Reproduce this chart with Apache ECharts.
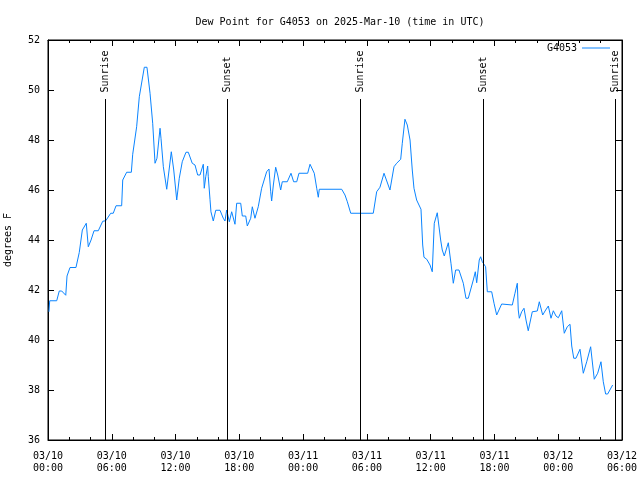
<!DOCTYPE html>
<html>
<head>
<meta charset="utf-8">
<script src="https://cdn.jsdelivr.net/npm/echarts@6/dist/echarts.min.js"></script>
<style>html,body{margin:0;padding:0;background:#fff}#c{width:640px;height:480px}</style>
</head>
<body>
<div id="c"></div>
<script>
// Hours since 2025-03-10 00:00 UTC
const hours = [0.09,0.16,0.82,1.06,1.29,1.67,1.79,2.07,2.63,2.94,3.23,3.60,3.79,4.05,4.33,4.73,5.15,5.43,5.90,6.14,6.40,6.93,7.03,7.40,7.84,7.97,8.34,8.59,9.06,9.31,9.60,9.85,10.07,10.25,10.54,10.63,10.85,11.17,11.32,11.60,11.83,12.11,12.35,12.63,12.98,13.20,13.36,13.57,13.83,14.08,14.30,14.61,14.70,14.84,15.02,15.08,15.24,15.33,15.55,15.78,16.18,16.49,16.65,16.81,17.06,17.28,17.59,17.75,18.13,18.28,18.60,18.75,19.07,19.22,19.47,19.78,20.10,20.57,20.79,20.95,21.04,21.20,21.42,21.61,21.89,22.04,22.51,22.86,23.11,23.40,23.61,24.43,24.65,25.05,25.28,25.43,25.52,27.00,27.63,27.94,28.16,28.48,30.60,30.92,31.23,31.61,32.17,32.30,32.55,32.80,33.18,33.33,33.58,33.80,34.06,34.27,34.43,34.68,34.90,35.09,35.25,35.37,35.63,35.94,36.15,36.34,36.62,36.94,37.09,37.28,37.66,37.91,38.13,38.35,38.66,39.07,39.32,39.54,40.01,40.20,40.33,40.57,40.70,40.86,41.02,41.17,41.33,41.74,41.96,42.21,42.36,42.68,42.83,43.68,43.93,44.15,44.24,44.34,44.56,44.78,44.97,45.18,45.56,46.03,46.22,46.54,46.82,47.07,47.32,47.54,47.79,48.01,48.33,48.57,48.85,49.11,49.27,49.46,49.67,50.05,50.36,50.68,51.05,51.39,51.71,52.02,52.24,52.46,52.65,53.12];
const dewF = [41.13,41.57,41.57,41.96,41.96,41.79,42.56,42.9,42.9,43.5,44.4,44.67,43.73,44.0,44.37,44.37,44.75,44.77,45.07,45.07,45.37,45.37,46.4,46.71,46.71,47.43,48.53,49.73,50.91,50.91,49.87,48.67,47.07,47.27,48.47,48.07,46.93,46.03,46.03,47.53,46.8,45.6,46.47,47.13,47.51,47.51,47.45,47.07,47.0,46.6,46.6,47.03,46.07,46.53,46.96,46.53,45.63,45.13,44.76,45.19,45.19,44.87,44.76,45.2,44.73,45.13,44.63,45.47,45.47,44.96,44.96,44.56,44.87,45.33,44.87,45.33,46.07,46.73,46.84,45.93,45.56,46.2,46.91,46.6,46.0,46.33,46.33,46.67,46.33,46.33,46.67,46.67,47.03,46.67,46.07,45.71,46.03,46.03,46.03,45.8,45.53,45.07,45.07,45.93,46.11,46.67,46.0,46.0,46.93,47.07,47.23,47.87,48.83,48.6,48.0,46.8,46.07,45.6,45.4,45.23,43.8,43.31,43.23,43.0,42.73,44.67,45.09,44.0,43.6,43.36,43.89,43.07,42.27,42.8,42.8,42.27,41.67,41.67,42.4,42.73,42.29,43.2,43.33,43.13,43.13,42.93,41.93,41.93,41.47,41.0,41.0,41.44,41.4,41.4,41.87,42.27,41.2,40.87,41.13,41.27,40.8,40.37,41.13,41.16,41.53,41.0,41.2,41.36,40.87,41.17,40.96,40.89,41.17,40.27,40.53,40.63,39.76,39.27,39.27,39.63,38.67,39.13,39.73,38.43,38.67,39.13,38.33,37.84,37.84,38.2];
const xTickLabels = ['03/10\n00:00','03/10\n06:00','03/10\n12:00','03/10\n18:00','03/11\n00:00','03/11\n06:00','03/11\n12:00','03/11\n18:00','03/12\n00:00','03/12\n06:00'];
const eventNames = ['Sunrise','Sunset','Sunrise','Sunset','Sunrise'];
const eventHours = [5.41,16.87,29.38,40.97,53.39];
const seriesName = 'G4053';

const FONT = 'DejaVu Sans Mono';
const yMin = 36, yMax = 52;
const lineTop = 49.64, labelBase = 49.9;

const markData = [];
eventHours.forEach((h, i) => {
  markData.push([{coord:[h, yMin], label:{show:false}}, {coord:[h, lineTop]}]);
  markData.push([{coord:[h, labelBase], lineStyle:{color:'rgba(0,0,0,0)', width:0},
    label:{show:true, formatter: eventNames[i], position:'insideStart', distance:0,
      color:'#000', fontFamily:FONT, fontSize:10}}, {coord:[h, yMax]}]);
});

const tickCommon = {inside:true, length:6, lineStyle:{color:'#000', width:1}};
const minorCommon = {show:true, splitNumber:3, length:3, lineStyle:{color:'#000', width:1}};
const LINE_COLOR = '#0a84ff';

const chart = echarts.init(document.getElementById('c'), null, {renderer:'canvas'});
chart.setOption({
  animation:false,
  backgroundColor:'#fff',
  title:{text:'Dew Point for G4053 on 2025-Mar-10 (time in UTC)', left:335, top:12, textAlign:'center',
    textStyle:{fontFamily:FONT, fontSize:10, fontWeight:'normal', color:'#000'}},
  legend:{data:[{name:seriesName, icon:'rect', itemStyle:{color:LINE_COLOR}}], right:30, top:43, padding:0, align:'right',
    itemWidth:28, itemHeight:1,
    textStyle:{fontFamily:FONT, fontSize:10, color:'#000'}},
  grid:{left:48, right:18, top:40, bottom:40, show:true, borderColor:'#000', borderWidth:1,
    containLabel:false, outerBoundsMode:'none'},
  xAxis:[{type:'value', min:0, max:54, interval:6,
      axisLine:{show:true, onZero:false, lineStyle:{color:'#000'}},
      axisTick:tickCommon, minorTick:minorCommon, splitLine:{show:false},
      axisLabel:{color:'#000', fontFamily:FONT, fontSize:10, lineHeight:12, margin:10,
        formatter:(v)=>xTickLabels[Math.round(v/6)] || ''}},
    {type:'value', position:'top', min:0, max:54, interval:6,
      axisLine:{show:true, onZero:false, lineStyle:{color:'#000'}},
      axisTick:tickCommon, minorTick:minorCommon, splitLine:{show:false}, axisLabel:{show:false}}],
  yAxis:[{type:'value', min:yMin, max:yMax, interval:2, name:'degrees F', nameLocation:'middle', nameGap:35,
      nameTextStyle:{fontFamily:FONT, fontSize:10, color:'#000'},
      axisLine:{show:true, onZero:false, lineStyle:{color:'#000'}},
      axisTick:tickCommon, splitLine:{show:false},
      axisLabel:{color:'#000', fontFamily:FONT, fontSize:10, margin:8}},
    {type:'value', position:'right', min:yMin, max:yMax, interval:2,
      axisLine:{show:true, onZero:false, lineStyle:{color:'#000'}},
      axisTick:tickCommon, splitLine:{show:false}, axisLabel:{show:false}}],
  series:[{name:seriesName, type:'line', xAxisIndex:0, yAxisIndex:0, symbol:'none',
    data: hours.map((h,i)=>[h, dewF[i]]),
    lineStyle:{color:LINE_COLOR, width:1}, itemStyle:{color:LINE_COLOR},
    emphasis:{disabled:true},
    markLine:{silent:true, symbol:['none','none'], animation:false,
      lineStyle:{color:'#000', width:1, type:'solid'},
      emphasis:{disabled:true},
      data:markData}}]
});
</script>
</body>
</html>
